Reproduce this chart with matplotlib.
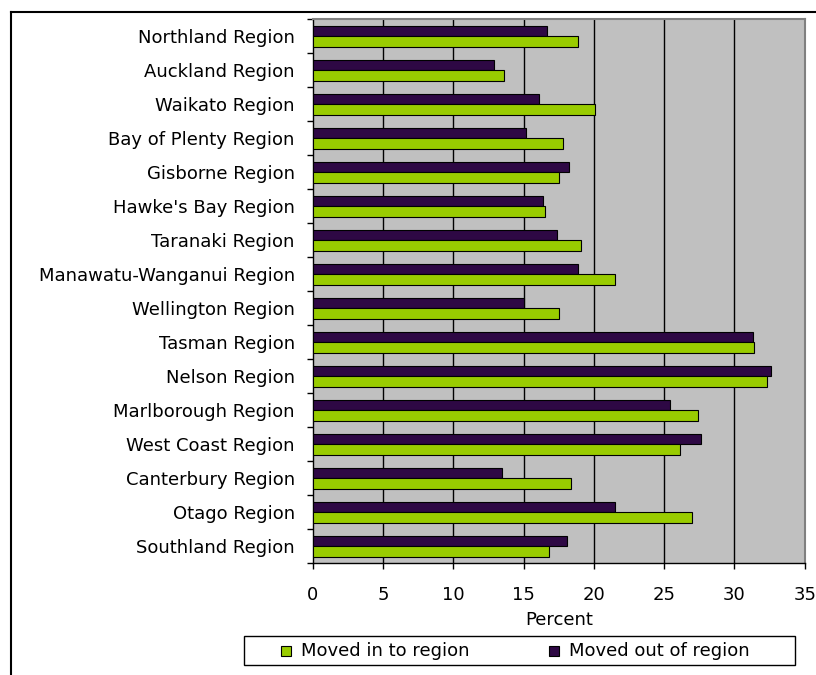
"""
Movimiento interregional por región (NZ) — barras horizontales agrupadas.
"""

import matplotlib
matplotlib.use("Agg")
import matplotlib.pyplot as plt
from matplotlib.lines import Line2D
from matplotlib.patches import Rectangle
import numpy as np

W, H = 816, 675

regions = [
    "Northland Region", "Auckland Region", "Waikato Region",
    "Bay of Plenty Region", "Gisborne Region", "Hawke's Bay Region",
    "Taranaki Region", "Manawatu-Wanganui Region", "Wellington Region",
    "Tasman Region", "Nelson Region", "Marlborough Region",
    "West Coast Region", "Canterbury Region", "Otago Region",
    "Southland Region",
]
moved_in = [18.9, 13.6, 20.1, 17.8, 17.5, 16.5, 19.1, 21.5, 17.5,
            31.4, 32.3, 27.4, 26.1, 18.4, 27.0, 16.8]
moved_out = [16.7, 12.9, 16.1, 15.2, 18.2, 16.4, 17.4, 18.9, 15.0,
             31.3, 32.6, 25.4, 27.6, 13.5, 21.5, 18.1]
x_ticks = [0, 5, 10, 15, 20, 25, 30, 35]
legend_labels = ["Moved in to region", "Moved out of region"]

GREEN = "#99CC00"
PURPLE = "#2E0844"
FS = 13

plt.rcParams["font.family"] = ["DejaVu Sans"]


def fx(px):
    return px / W


def fy(py):
    return 1 - py / H


fig = plt.figure(figsize=(W / 100, H / 100), dpi=100)
ax = fig.add_axes([fx(312.7), fy(563.3), 492 / W, 544 / H])
ax.set_facecolor("#C0C0C0")

y = np.arange(len(regions))
h = 0.31
ax.barh(y - h / 2, moved_out, height=h, color=PURPLE, edgecolor="black",
        linewidth=0.8, zorder=3)
ax.barh(y + h / 2, moved_in, height=h, color=GREEN, edgecolor="black",
        linewidth=0.8, zorder=3)

ax.set_xlim(0, 35)
ax.set_ylim(len(regions) - 0.5, -0.5)
ax.set_xticks(x_ticks)
ax.set_xticklabels([str(t) for t in x_ticks], fontsize=FS)
ax.set_yticks(y)
ax.set_yticklabels(regions, fontsize=FS)
ax.tick_params(axis="y", length=0, pad=13)
ax.set_yticks(np.arange(len(regions) + 1) - 0.5, minor=True)
ax.tick_params(axis="y", which="minor", length=4.5, width=1, direction="out")
ax.tick_params(axis="x", length=4.5, width=1, direction="out", pad=12)
ax.set_xlabel("Percent", fontsize=FS, labelpad=5)

for t in x_ticks[1:-1]:
    ax.axvline(t, color="black", linewidth=1, zorder=1)

for side in ("top", "right"):
    ax.spines[side].set_color("#808080")
    ax.spines[side].set_linewidth(1.5)
for side in ("left", "bottom"):
    ax.spines[side].set_color("black")
    ax.spines[side].set_linewidth(1)

# leyenda (caja, cuadros y textos)
fig.add_artist(Rectangle((fx(244), fy(665)), 551 / W, 29 / H, facecolor="white",
                         edgecolor="black", linewidth=1,
                         transform=fig.transFigure))
for x0, color, label in zip([281, 549], [GREEN, PURPLE], legend_labels):
    fig.add_artist(Rectangle((fx(x0), fy(656)), 10 / W, 10 / H, facecolor=color,
                             edgecolor="black", linewidth=0.8,
                             transform=fig.transFigure))
    fig.text(fx(x0 + 20), fy(651), label, fontsize=FS, ha="left", va="center")

# borde exterior del área del gráfico
fig.add_artist(Line2D([fx(11), fx(11)], [0, fy(12)], color="black",
                      linewidth=1.5, transform=fig.transFigure))
fig.add_artist(Line2D([fx(11), 1], [fy(12), fy(12)], color="black",
                      linewidth=1.5, transform=fig.transFigure))

fig.savefig("out.png", dpi=100)
plt.close(fig)
